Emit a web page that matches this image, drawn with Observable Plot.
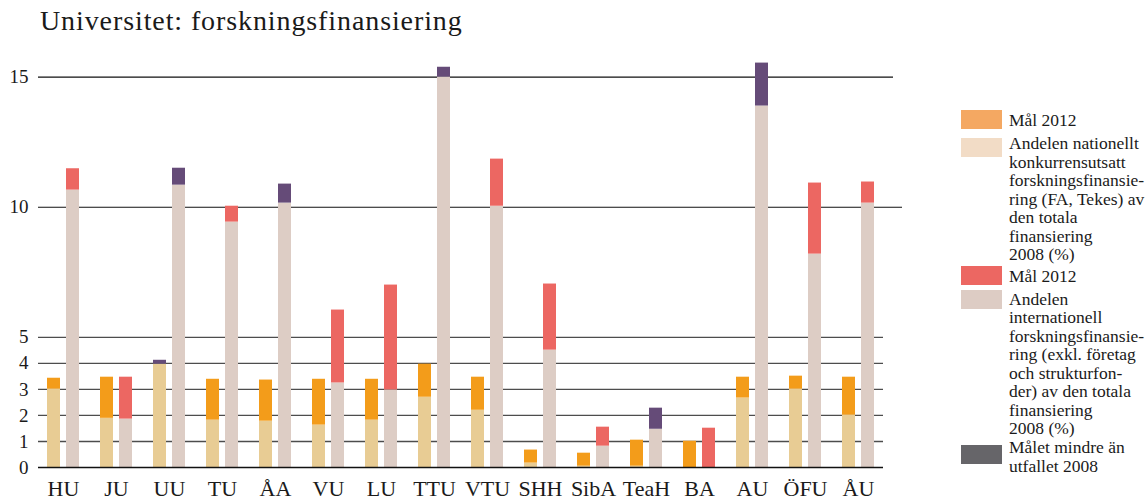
<!DOCTYPE html>
<html><head><meta charset="utf-8">
<script src="https://cdn.jsdelivr.net/npm/d3@7"></script>
<script src="https://cdn.jsdelivr.net/npm/@observablehq/plot@0.6"></script>
<style>
body{margin:0;background:#fff;font-family:"Liberation Serif",serif;}
#wrap{position:relative;width:1145px;height:500px;overflow:hidden;background:#fff;}
#title{position:absolute;left:40px;top:6.6px;font-size:28px;letter-spacing:0.9px;line-height:28px;color:#1a1a1a;white-space:nowrap;}
#chart{position:absolute;left:0;top:50px;}
.sw{position:absolute;left:961px;width:41px;height:19px;}
.lt{position:absolute;left:1009px;font-size:17.5px;line-height:18.5px;color:#1a1a1a;white-space:nowrap;}
</style></head>
<body>
<div id="wrap">
  <div id="title">Universitet: forskningsfinansiering</div>
  <div id="chart"></div>
</div>
<script>
// ---- data ----
const universities = ["HU","JU","UU","TU","ÅA","VU","LU","TTU","VTU","SHH","SibA","TeaH","BA","AU","ÖFU","ÅU"];
// national competitive funding share (%): outcome 2008 and goal 2012
const natOutcome2008 = [3.01, 1.89, 4.12, 1.82, 1.78, 1.63, 1.82, 2.70, 2.20, 0.17, 0.05, 0.05, 0.00, 2.67, 3.01, 2.01];
const natGoal2012    = [3.43, 3.47, 3.97, 3.39, 3.36, 3.39, 3.39, 3.97, 3.47, 0.67, 0.55, 1.05, 1.01, 3.47, 3.51, 3.47];
// international funding share (%): outcome 2008 and goal 2012
const intOutcome2008 = [10.66, 1.86, 11.50, 9.43, 10.89, 3.25, 2.98, 15.38, 10.04, 4.51, 0.82, 2.28, 0.00, 15.54, 8.20, 10.16];
const intGoal2012    = [11.48, 3.47, 10.85, 10.04, 10.16, 6.05, 7.01, 15.00, 11.85, 7.05, 1.55, 1.47, 1.51, 13.89, 10.93, 10.97];
const yTicks = [0, 1, 2, 3, 4, 5, 10, 15];
const legendLabels = [
  ["Mål 2012"],
  ["Andelen nationellt","konkurrensutsatt","forskningsfinansie-","ring (FA, Tekes) av","den totala","finansiering","2008 (%)"],
  ["Mål 2012"],
  ["Andelen","internationell","forskningsfinansie-","ring (exkl. företag","och strukturfon-","der) av den totala","finansiering","2008 (%)"],
  ["Målet mindre än","utfallet 2008"]
];
const legendColors = ["#f4a862", "#f2dcc6", "#ec6762", "#ddccc4", "#666569"];

// ---- colours ----
const C = {natBase:"#e8cc94", natGoal:"#f39c1a", intBase:"#ddcdc5", intGoal:"#ec6762", below:"#654b78"};

function segments(outcome, goal, baseColor, goalColor) {
  const rows = [];
  universities.forEach((u, i) => {
    const a = outcome[i], b = goal[i];
    const lo = Math.min(a, b), hi = Math.max(a, b);
    if (lo > 0) rows.push({u, y1: 0, y2: lo, fill: baseColor});
    rows.push({u, y1: lo, y2: hi, fill: b >= a ? goalColor : C.below});
  });
  return rows;
}
const natRows = segments(natOutcome2008, natGoal2012, C.natBase, C.natGoal);
const intRows = segments(intOutcome2008, intGoal2012, C.intBase, C.intGoal);

const chart = Plot.plot({
  width: 1145,
  height: 450,
  marginLeft: 38,
  marginRight: 262,
  marginTop: 4,
  marginBottom: 33,
  style: {fontFamily: "'Liberation Serif', serif", background: "white", color: "#1a1a1a"},
  x: {domain: universities, paddingInner: 0.397, paddingOuter: 0.155, align: 0.5},
  y: {domain: [0, 15.87]},
  marks: [
    Plot.ruleY(yTicks.filter(d => d > 0 && d <= 5), {stroke: "#4d4d4d", strokeWidth: 1.3}),
    Plot.ruleY([10], {stroke: "#111", strokeWidth: 1.2, insetRight: -19}),
    Plot.ruleY([15], {stroke: "#111", strokeWidth: 1.2, insetRight: -10}),
    Plot.barY(natRows, {x: "u", y1: "y1", y2: "y2", fill: d => d.fill, insetRight: 19}),
    Plot.barY(intRows, {x: "u", y1: "y1", y2: "y2", fill: d => d.fill, insetLeft: 19}),
    Plot.ruleY([0], {stroke: "#111", strokeWidth: 1.5}),
    Plot.axisY({ticks: yTicks, tickSize: 0, tickPadding: 10, fontSize: 19, label: null, line: true, stroke: "#444", fill: "#1a1a1a"}),
    Plot.axisX({tickSize: 0, tickPadding: 13, fontSize: 22, label: null, fill: "#1a1a1a"})
  ]
});
document.getElementById("chart").appendChild(chart);

// ---- legend ----
const swatchTops = [110, 137.7, 265.7, 290, 445];
const textTops = [110.6, 134.2, 266.6, 289.9, 438.2];
const wrap = document.getElementById("wrap");
legendLabels.forEach((lines, i) => {
  const sw = document.createElement("div");
  sw.className = "sw";
  sw.style.top = swatchTops[i] + "px";
  sw.style.background = legendColors[i];
  wrap.appendChild(sw);
  const t = document.createElement("div");
  t.className = "lt";
  t.style.top = textTops[i] + "px";
  t.innerHTML = lines.join("<br>");
  wrap.appendChild(t);
});
</script>
</body></html>
